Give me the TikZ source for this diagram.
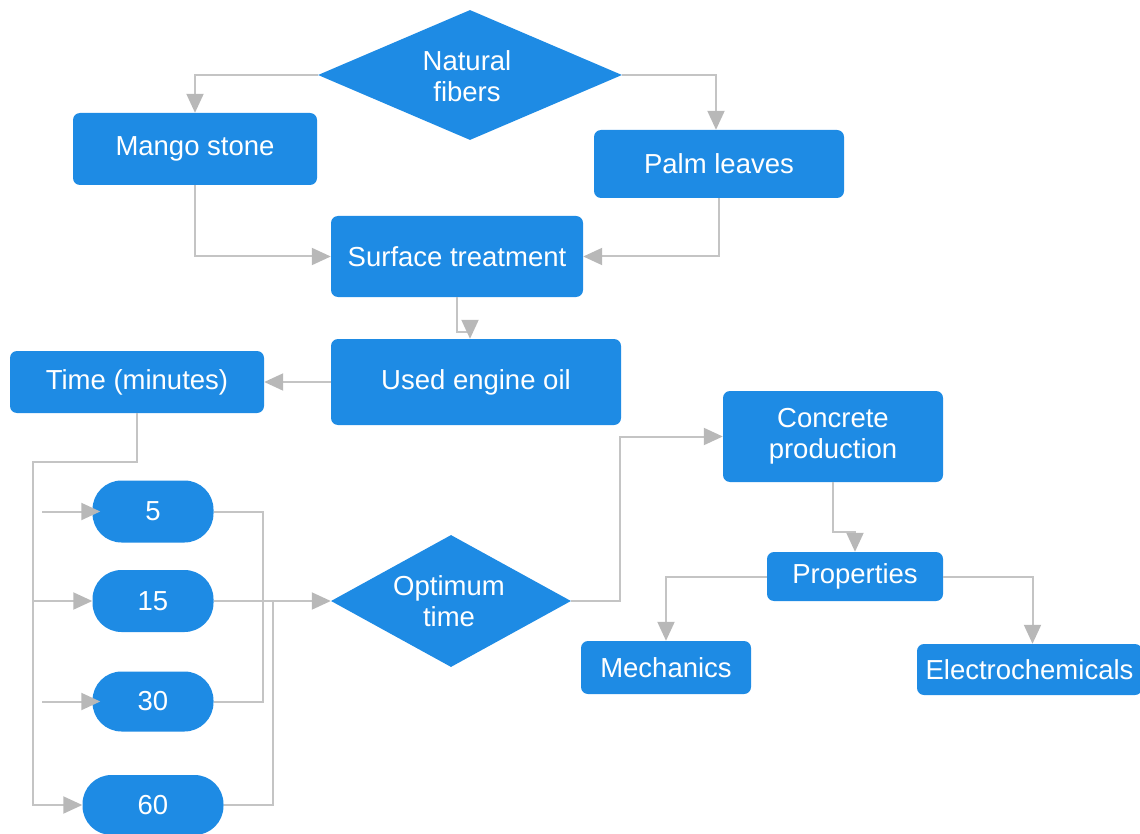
\documentclass[tikz,border=0pt]{standalone}
\usepackage{fontspec}
\setmainfont{Liberation Sans}
\usetikzlibrary{shapes.geometric,arrows.meta,calc}
\definecolor{boxblue}{RGB}{30,139,228}
\definecolor{lngray}{RGB}{196,196,196}
\definecolor{tipgray}{RGB}{184,184,184}
\begin{document}
\begin{tikzpicture}[x=1pt,y=-1pt,
  box/.style={draw=none,fill=boxblue,rounded corners=7pt,inner sep=0pt,
    text=white,align=center,font=\fontsize{27.5}{31}\selectfont},
  pill/.style={box,rounded corners=29pt},
  dia/.style={shape=diamond,draw=none,fill=boxblue,inner sep=0pt},
  dtxt/.style={text=white,align=center,inner sep=0pt,font=\fontsize{27.5}{31}\selectfont},
  ln/.style={draw=lngray,line width=2pt,-{Triangle[length=19pt,width=17pt,fill=tipgray,color=tipgray]}},
  lnn/.style={draw=lngray,line width=2pt}]
\useasboundingbox (0,0) rectangle (1140,834);

% nodes
\node[dia,minimum width=304pt,minimum height=130pt] (nf) at (470,75) {};
\node[dtxt] (nft) at (467,76) {Natural\\fibers};
\node[box,minimum width=244pt,minimum height=72pt] (mango) at (195,149) {Mango stone};
\node[box,minimum width=250pt,minimum height=68pt] (palm) at (719,164) {Palm leaves};
\node[box,minimum width=252pt,minimum height=81pt] (surf) at (457,256.5) {Surface treatment};
\node[box,minimum width=290pt,minimum height=86pt] (oil) at (476,382) {Used engine oil};
\node[box,minimum width=254pt,minimum height=62pt] (time) at (137,382) {Time (minutes)};
\node[box,minimum width=220pt,minimum height=91pt] (conc) at (833,436.5) {Concrete\\production};
\node[box,minimum width=176pt,minimum height=49pt] (prop) at (855,576.5) {Properties};
\node[box,minimum width=170pt,minimum height=53pt] (mech) at (666,667.5) {Mechanics};
\node[box,minimum width=225pt,minimum height=51pt] (elec) at (1029.5,669.5) {Electrochemicals};
\node[dia,minimum width=240pt,minimum height=132pt] (opt) at (451,601) {};
\node[dtxt] (optt) at (449,601) {Optimum\\time};
\node[pill,minimum width=121pt,minimum height=62pt] (p5) at (153,511.5) {5};
\node[pill,minimum width=121pt,minimum height=62pt] (p15) at (153,601) {15};
\node[pill,minimum width=121pt,minimum height=60pt] (p30) at (153,701.5) {30};
\node[pill,minimum width=141pt,minimum height=60pt] (p60) at (153,805) {60};

% helper coordinates
\coordinate (tb) at (33,462);
\coordinate (s5) at (42,511.5);
\coordinate (s30) at (42,701.5);
\coordinate (r5) at (263,511.5);
\coordinate (j60) at (273,601);

% connectors
\draw[ln] (nf.west) -| (mango.north);
\draw[ln] (nf.east) -| ([xshift=-3pt]palm.north);
\draw[ln] (mango.south) |- (surf.west);
\draw[ln] (palm.south) |- (surf.east);
\draw[ln] (surf.south) -- ++(0,35) -| ([xshift=-6pt]oil.north);
\draw[ln] (oil.west) -- (time.east);
\draw[ln] (time.south) |- (tb) |- (p60.west);
\draw[ln] (tb |- p15.west) -- (p15.west);
\draw[ln] (s5) -- ([xshift=8pt]p5.west);
\draw[ln] (s30) -- ([xshift=8pt]p30.west);
\draw[lnn] (p5.east) -| (r5 |- p30.east) -- (p30.east);
\draw[lnn] (p60.east) -| (j60);
\draw[ln] (p15.east) -- (opt.west);
\draw[ln] (opt.east) -- ++(49,0) |- (conc.west);
\draw[ln] (conc.south) -- ++(0,50) -| (prop.north);
\draw[ln] (prop.west) -| (mech.north);
\draw[ln] (prop.east) -| ([xshift=3pt]elec.north);
\end{tikzpicture}
\end{document}
